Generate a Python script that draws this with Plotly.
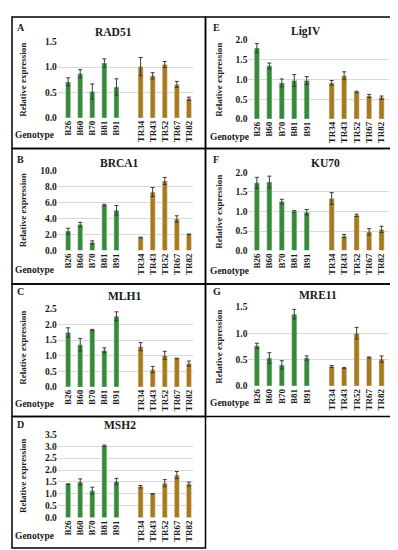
import plotly.graph_objects as go

# ---------------- data ----------------
b_genotypes = ["B26", "B60", "B70", "B81", "B91"]
tr_genotypes = ["TR34", "TR43", "TR52", "TR67", "TR82"]

rad51_b = [0.71, 0.87, 0.52, 1.08, 0.61]
rad51_b_err = [0.08, 0.08, 0.15, 0.08, 0.16]
rad51_tr = [1.01, 0.83, 1.05, 0.66, 0.38]
rad51_tr_err = [0.18, 0.06, 0.06, 0.06, 0.03]

brca1_b = [2.43, 3.24, 1.01, 5.67, 5.02]
brca1_b_err = [0.35, 0.28, 0.20, 0.10, 0.60]
brca1_tr = [1.62, 7.29, 8.66, 3.93, 2.02]
brca1_tr_err = [0.05, 0.56, 0.45, 0.40, 0.05]

mlh1_b = [1.74, 1.35, 1.82, 1.17, 2.26]
mlh1_b_err = [0.15, 0.20, 0.02, 0.08, 0.14]
mlh1_tr = [1.29, 0.56, 1.01, 0.91, 0.75]
mlh1_tr_err = [0.13, 0.10, 0.13, 0.01, 0.08]

msh2_b = [1.41, 1.50, 1.13, 3.02, 1.52]
msh2_b_err = [0.01, 0.13, 0.15, 0.03, 0.13]
msh2_tr = [1.30, 1.00, 1.45, 1.79, 1.41]
msh2_tr_err = [0.05, 0.01, 0.15, 0.15, 0.08]

lig4_b = [1.79, 1.34, 0.91, 0.97, 0.97]
lig4_b_err = [0.11, 0.07, 0.10, 0.15, 0.10]
lig4_tr = [0.91, 1.09, 0.68, 0.58, 0.54]
lig4_tr_err = [0.06, 0.10, 0.02, 0.04, 0.04]

ku70_b = [1.73, 1.75, 1.25, 1.00, 0.98]
ku70_b_err = [0.14, 0.15, 0.06, 0.02, 0.07]
ku70_tr = [1.33, 0.37, 0.90, 0.48, 0.54]
ku70_tr_err = [0.15, 0.04, 0.03, 0.08, 0.08]

mre11_b = [0.76, 0.53, 0.40, 1.36, 0.53]
mre11_b_err = [0.05, 0.10, 0.08, 0.09, 0.04]
mre11_tr = [0.37, 0.34, 1.00, 0.54, 0.51]
mre11_tr_err = [0.02, 0.01, 0.11, 0.01, 0.06]

# ---------------- layout helpers ----------------
W, H = 398, 550
FONT = "Liberation Serif"
GREEN = "#378a37"
BROWN = "#a97a1c"
TXT = "#1a1a1a"

b_pos = list(range(len(b_genotypes)))
tr_pos = [len(b_genotypes) + 1 + i for i in range(len(tr_genotypes))]


def px(x):
    return x / W


def py(y):
    return 1 - y / H


# name, letter, b vals, b err, tr vals, tr err, ymax, dtick, fmt,
# column, plot top px, plot bottom px, title x px, title y px, genotype y px, letter y px
panels = [
    ("RAD51", "A", rad51_b, rad51_b_err, rad51_tr, rad51_tr_err, 1.5, 0.5, ".1f", 0, 29, 107, 106, 19, 124, 15),
    ("BRCA1", "B", brca1_b, brca1_b_err, brca1_tr, brca1_tr_err, 10.0, 2.0, ".1f", 0, 160, 242, 112, 153, 262, 149),
    ("MLH1", "C", mlh1_b, mlh1_b_err, mlh1_tr, mlh1_tr_err, 2.5, 0.5, ".1f", 0, 301, 381, 117, 288, 398, 284),
    ("MSH2", "D", msh2_b, msh2_b_err, msh2_tr, msh2_tr_err, 3.5, 0.5, ".1f", 0, 429, 514, 112, 420, 533, 419),
    ("LigIV", "E", lig4_b, lig4_b_err, lig4_tr, lig4_tr_err, 2.0, 0.5, ".1f", 1, 27, 108, 299, 19, 126, 15),
    ("KU70", "F", ku70_b, ku70_b_err, ku70_tr, ku70_tr_err, 2.0, 0.5, ".1f", 1, 162, 242, 318, 153, 263, 149),
    ("MRE11", "G", mre11_b, mre11_b_err, mre11_tr, mre11_tr_err, 1.5, 0.5, ".1f", 1, 299, 380, 311, 287, 397, 284),
]

col_x = {0: (50, 185), 1: (241, 382)}
col_range = {0: [-0.85, 10.3], 1: [-0.68, 10.6]}
col_letter_x = {0: 7, 1: 204}
col_ytitle_x = {0: 15, 1: 212}
col_geno_x = {0: 27, 1: 222}

fig = go.Figure()
annotations = []
shapes = []

for i, (name, letter, bv, be, tv, te, ymax, dtick, fmt, col, top, bot, tx, ty, gy, ly) in enumerate(panels):
    n = "" if i == 0 else str(i + 1)
    xa, ya = "x" + n, "y" + n
    fig.add_trace(go.Bar(
        x=b_pos, y=bv, xaxis=xa, yaxis=ya, marker_color=GREEN, width=0.42,
        error_y=dict(type="data", array=be, color="#3a3a3a", thickness=1, width=2),
        showlegend=False,
    ))
    fig.add_trace(go.Bar(
        x=tr_pos, y=tv, xaxis=xa, yaxis=ya, marker_color=BROWN, width=0.42,
        error_y=dict(type="data", array=te, color="#3a3a3a", thickness=1, width=2),
        showlegend=False,
    ))
    x0, x1 = col_x[col]
    fig.layout["xaxis" + n] = dict(
        domain=[px(x0), px(x1)], range=col_range[col], anchor=ya,
        tickmode="array", tickvals=b_pos + tr_pos, ticktext=b_genotypes + tr_genotypes,
        tickangle=-90, showgrid=False, zeroline=False, showline=False, ticks="",
        tickfont=dict(family=FONT, size=9, color=TXT, weight="bold"),
    )
    fig.layout["yaxis" + n] = dict(
        domain=[py(bot), py(top)], range=[0, ymax * 1.002], anchor=xa,
        dtick=dtick, tick0=0, tickformat=fmt, showgrid=True, gridcolor="#d9d9d9",
        gridwidth=1, zeroline=False, showline=False, ticks="",
        tickfont=dict(family=FONT, size=9.5, color=TXT, weight="bold"),
    )
    annotations.append(dict(text="<b>%s</b>" % name, x=px(tx), y=py(ty), xref="paper", yref="paper",
                            showarrow=False, xanchor="center", yanchor="middle",
                            font=dict(family=FONT, size=11.5, color=TXT)))
    annotations.append(dict(text="<b>%s</b>" % letter, x=px(col_letter_x[col]), y=py(ly), xref="paper",
                            yref="paper", showarrow=False, xanchor="left", yanchor="middle",
                            font=dict(family=FONT, size=10, color=TXT)))
    annotations.append(dict(text="<b>Relative expression</b>", x=px(col_ytitle_x[col]), y=py((top + bot) / 2),
                            xref="paper", yref="paper", showarrow=False, textangle=-90,
                            xanchor="center", yanchor="middle",
                            font=dict(family=FONT, size=9, color=TXT)))
    annotations.append(dict(text="<b>Genotype</b>", x=px(col_geno_x[col]), y=py(gy), xref="paper",
                            yref="paper", showarrow=False, xanchor="center", yanchor="middle",
                            font=dict(family=FONT, size=9.5, color=TXT)))

# panel boxes
rows = [4, 138, 276, 411, 545]
for r in range(4):
    shapes.append(dict(type="rect", xref="paper", yref="paper", x0=px(4), x1=px(198),
                       y0=py(rows[r + 1]), y1=py(rows[r]), line=dict(color="black", width=1.5)))
for r in range(3):
    shapes.append(dict(type="rect", xref="paper", yref="paper", x0=px(198), x1=px(391),
                       y0=py(rows[r + 1]), y1=py(rows[r]), line=dict(color="black", width=1.5)))

fig.update_layout(
    width=W, height=H, margin=dict(l=0, r=0, t=0, b=0),
    paper_bgcolor="white", plot_bgcolor="white",
    annotations=annotations, shapes=shapes, bargap=0.5,
    font=dict(family=FONT),
)

fig.write_html("out.html")
